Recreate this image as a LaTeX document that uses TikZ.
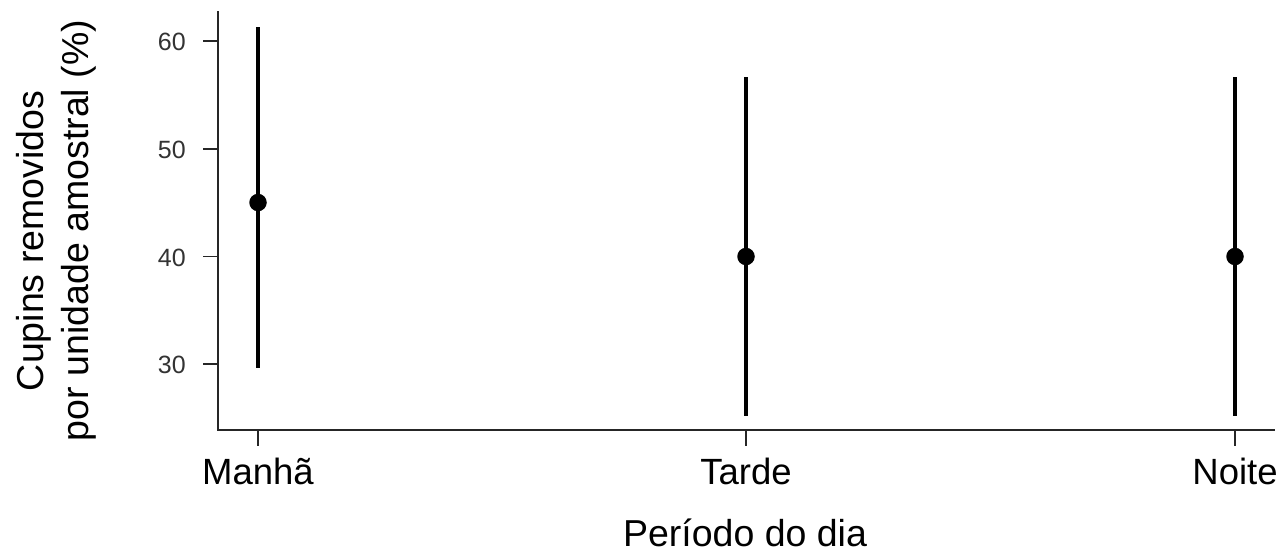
\documentclass[tikz,border=0pt]{standalone}
\usepackage{fontspec}
\setmainfont{Liberation Sans}
\begin{document}
\begin{tikzpicture}[x=1pt,y=-1pt,
  axis/.style={line width=1.3pt,black!85},
  errbar/.style={line width=3.2pt,black},
  meanpt/.style={circle,fill=black,inner sep=0pt,minimum size=17.5pt},
  ticklab/.style={font=\fontsize{25}{30}\selectfont,text=black!80,anchor=east,inner sep=0pt},
  catlab/.style={font=\fontsize{36.5}{42}\selectfont,anchor=base,inner sep=0pt},
  title/.style={font=\fontsize{37.5}{44}\selectfont,anchor=base,inner sep=0pt}]
\useasboundingbox (0,0) rectangle (1283,552);
% axes
\coordinate (ytop) at (218,11);
\coordinate (orig) at (218,430);
\coordinate (xend) at (1275,430);
\draw[axis] (ytop) -- (orig) -- (xend);
% y ticks
\foreach \v/\yy in {60/41,50/149,40/256.5,30/364}{
  \coordinate (yt\v) at (218,\yy);
  \coordinate (yl\v) at (203,\yy);
  \draw[axis] (yt\v) -- (yl\v);
  \node[ticklab] (ylab\v) at (186,\yy+1) {\v};
}
% x ticks
\foreach \n/\xx/\lab in {m/258/Manhã,t/746/Tarde,n/1235/Noite}{
  \coordinate (xt\n) at (\xx,430);
  \coordinate (xb\n) at (\xx,446);
  \draw[axis] (xt\n) -- (xb\n);
  \node[catlab] (xlab\n) at (\xx,484) {\lab};
}
% error bars
\coordinate (mtop) at (258,27);
\coordinate (mbot) at (258,368);
\coordinate (ttop) at (746,77);
\coordinate (tbot) at (746,416);
\coordinate (ntop) at (1235,77);
\coordinate (nbot) at (1235,416);
\draw[errbar] (mtop) -- (mbot);
\draw[errbar] (ttop) -- (tbot);
\draw[errbar] (ntop) -- (nbot);
\node[meanpt] (pm) at (258,202.5) {};
\node[meanpt] (pt) at (746,256.5) {};
\node[meanpt] (pn) at (1235,256.5) {};
% titles
\node[title] (xtitle) at (745,546) {Período do dia};
\node[title,rotate=90] (ytitle1) at (43,241) {Cupins removidos};
\node[title,rotate=90] (ytitle2) at (88,230.5) {por unidade amostral (\%)};
\end{tikzpicture}
\end{document}
